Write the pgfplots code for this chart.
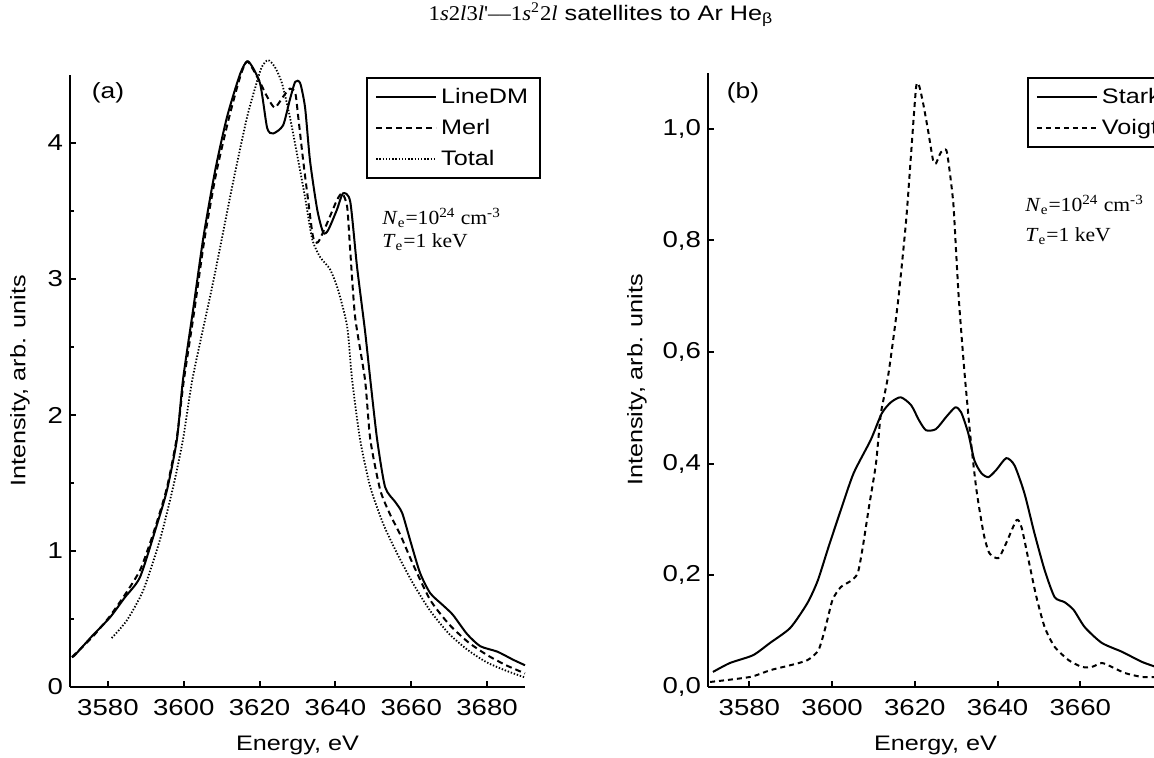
\documentclass[border=0pt]{standalone}
\usepackage{fontspec}
\setmainfont{Liberation Sans}[FakeStretch=1.2]
\newfontfamily\serif{Liberation Serif}[FakeStretch=1.08]
\usepackage{pgfplots}
\pgfplotsset{compat=1.18}
\pgfplotsset{
  panel/.style={
    scale only axis, axis lines=left, axis line style={-, line width=1.2pt},
    tick align=inside, major tick length=3pt, minor tick length=2pt,
    tick style={line width=1pt, black}, clip=false,
    xmin=3570, ymin=0,
    tick label style={font=\fontsize{11.5}{13}\selectfont},
    label style={font=\fontsize{10.5}{12}\selectfont},
    /pgf/number format/assume math mode=true,
    xticklabel style={/pgf/number format/1000 sep={}, yshift=-2.5pt},
    xlabel={Energy, eV}, ylabel={Intensity, arb. units},
    xlabel style={at={(axis description cs:0.5,0)}, anchor=center, yshift=-29pt},
    legend cell align=left,
    legend image code/.code={\draw[##1] (0pt,0pt) -- (30pt,0pt);},
    legend style={draw=black, line width=1pt, font=\fontsize{10.5}{12}\selectfont,
      row sep=2.5pt, inner xsep=4pt, inner ysep=3pt},
  },
  solidc/.style={black, line width=1pt, smooth, tension=0.4},
  dashc/.style={black, line width=1pt, dash pattern=on 3pt off 2pt, smooth, tension=0.4},
  dotc/.style={black, line width=0.9pt, dash pattern=on 0.7pt off 0.9pt, smooth, tension=0.4},
}
\begin{document}
\begin{tikzpicture}
% ---------- panel (a)
\begin{axis}[panel, at={(35pt,35.5pt)}, anchor=south west,
  width=227.5pt, height=306pt, xmax=3690, ymax=4.5,
  xtick={3580,3600,...,3680},
  ytick={0,1,2,3,4}, minor y tick num=1,
  ylabel style={at={(axis description cs:0,0.5)}, anchor=center, yshift=25pt},
  legend style={at={(0.651,0.997)}, anchor=north west}]
\addplot[solidc] coordinates {
(3570.5,0.22) (3571.3,0.235) (3576,0.38) (3580.5,0.51) (3584.5,0.66) (3588.5,0.81)
(3593,1.2) (3595.6,1.45) (3598.2,1.82) (3599.8,2.26) (3602.5,2.78) (3605.2,3.31)
(3608.3,3.80) (3611.4,4.19) (3614.9,4.51) (3617,4.60) (3620.1,4.44) (3622,4.11)
(3623.6,4.07) (3626.2,4.13) (3628,4.32) (3629.4,4.45) (3630.7,4.44) (3632,4.26)
(3633.3,3.87) (3635.2,3.51) (3636.8,3.34) (3638.1,3.36) (3640.4,3.51) (3642,3.63)
(3643.9,3.57) (3645.7,3.09) (3647.8,2.62) (3649.2,2.26) (3651,1.82) (3653.1,1.47)
(3655.8,1.36) (3657.6,1.28) (3659.7,1.08) (3662.3,0.84) (3665,0.69) (3668.4,0.60)
(3671,0.53) (3674.7,0.39) (3678.2,0.30) (3682.7,0.26) (3686.9,0.20) (3690,0.16)};
\addlegendentry{LineDM}
\addplot[dashc] coordinates {
(3570.5,0.22) (3572,0.26) (3576,0.37) (3580.5,0.52) (3585,0.70) (3588.5,0.86)
(3591,1.05) (3593,1.22) (3595.6,1.47) (3598.2,1.84) (3600,2.25) (3602.7,2.75)
(3605.4,3.28) (3608.5,3.77) (3611.8,4.17) (3614.8,4.48) (3616.7,4.60) (3619.3,4.49)
(3622,4.34) (3624,4.26) (3626.2,4.34) (3628,4.40) (3629.4,4.37) (3630.2,4.19)
(3631.5,3.87) (3632.8,3.58) (3634.1,3.31) (3635.4,3.27) (3637.8,3.41) (3640.4,3.58)
(3641.8,3.63) (3643.1,3.53) (3643.9,3.21) (3645.2,2.72) (3647.8,2.26) (3649.2,1.82)
(3651.8,1.45) (3654.4,1.27) (3657.1,1.12) (3660.5,0.90) (3665,0.64) (3670,0.46)
(3675,0.33) (3680,0.235) (3685,0.16) (3690,0.10)};
\addlegendentry{Merl}
\addplot[dotc] coordinates {
(3581,0.36) (3585,0.49) (3589.3,0.71) (3593.7,1.08) (3597.2,1.47) (3599.8,1.82)
(3602.4,2.28) (3607.7,2.97) (3613,3.71) (3616.7,4.19) (3619.3,4.45) (3620.6,4.56)
(3622.2,4.61) (3624,4.56) (3625.9,4.44) (3628,4.19) (3630.2,3.87) (3632,3.60)
(3633.9,3.29) (3636,3.16) (3638.6,3.07) (3640.7,2.92) (3643.1,2.65) (3644.4,2.26)
(3646.5,1.82) (3649.2,1.47) (3652.6,1.20) (3656.3,0.98) (3660.5,0.76) (3665,0.56)
(3670,0.39) (3675,0.27) (3680,0.18) (3685,0.12) (3690,0.07)};
\addlegendentry{Total}
\end{axis}
% ---------- panel (b)
\begin{axis}[panel, at={(354pt,35.5pt)}, anchor=south west,
  width=227.5pt, height=307pt, xmax=3680, ymax=1.1,
  xtick={3580,3600,...,3660},
  ytick={0,0.2,0.4,0.6,0.8,1.0},
  yticklabel style={/pgf/number format/.cd, use comma, fixed, fixed zerofill, precision=1},
  ylabel style={at={(axis description cs:0,0.5)}, anchor=center, yshift=35.5pt},
  legend style={at={(0.701,0.9935)}, anchor=north west}]
\addplot[solidc] coordinates {
(3571.2,0.027) (3575.3,0.043) (3580.9,0.057) (3585,0.079) (3589.9,0.106) (3594,0.150)
(3596.5,0.19) (3599.1,0.25) (3602.1,0.317) (3605.2,0.383) (3609.3,0.442) (3612,0.49)
(3614.2,0.51) (3616.6,0.519) (3619.1,0.505) (3621,0.478) (3622.7,0.46) (3625.1,0.462)
(3627.6,0.484) (3629.8,0.501) (3631.2,0.492) (3632.9,0.455) (3634.4,0.406) (3636.1,0.383)
(3637.8,0.376) (3639.7,0.389) (3642.1,0.41) (3644.1,0.397) (3646.5,0.347) (3648.9,0.276)
(3651.4,0.209) (3653.8,0.161) (3656.2,0.152) (3658.4,0.138) (3661.1,0.107) (3665.2,0.079)
(3670.1,0.063) (3674.9,0.045) (3678.3,0.036)};
\addlegendentry{Stark}
\addplot[dashc, dash pattern=on 2.5pt off 2pt] coordinates {
(3570.5,0.009) (3580.2,0.018) (3585,0.030) (3589.9,0.039) (3594,0.048) (3596.7,0.066)
(3598.4,0.107) (3600.1,0.156) (3602.1,0.179) (3604.5,0.19) (3606.2,0.204) (3607.4,0.25)
(3608.9,0.322) (3610.6,0.40) (3611.8,0.49) (3613.6,0.56) (3615.9,0.688) (3617.9,0.836)
(3619.1,0.956) (3620.3,1.074) (3621,1.078) (3622,1.046) (3623.2,0.997) (3624.4,0.944)
(3625.1,0.938) (3626.3,0.958) (3627.6,0.962) (3628.3,0.931) (3629.3,0.867) (3630,0.777)
(3630.7,0.688) (3631.9,0.573) (3632.9,0.49) (3633.6,0.437) (3634.9,0.353) (3636.6,0.276)
(3638,0.24) (3640.2,0.231) (3642.1,0.258) (3644.6,0.299) (3645.8,0.286) (3647.5,0.227)
(3649.4,0.161) (3651.4,0.107) (3653.8,0.072) (3657.2,0.048) (3660.4,0.036) (3662.8,0.036)
(3665.2,0.043) (3667.6,0.036) (3670.8,0.025) (3674.9,0.018) (3678.3,0.018)};
\addlegendentry{Voigt}
\end{axis}
% ---------- texts
\node[font=\fontsize{10.5}{12}\selectfont] at (300.5pt,371.5pt)
  {{\serif 1\textit{s}2\textit{l}3\textit{l}'\textendash\textendash1\textit{s}\textsuperscript{2}2\textit{l}} satellites to Ar He\textsubscript{β}};
\node[font=\fontsize{11}{12}\selectfont] at (54pt,332.5pt) {(a)};
\node[font=\fontsize{11}{12}\selectfont] at (371.5pt,332.5pt) {(b)};
\node[anchor=west, inner sep=0pt, font=\serif\fontsize{10}{12}\selectfont] at (191pt,270pt)
  {\textit{N}\textsubscript{e}=10\textsuperscript{24} cm\textsuperscript{-3}};
\node[anchor=west, inner sep=0pt, font=\serif\fontsize{10}{12}\selectfont] at (191pt,258pt)
  {\textit{T}\textsubscript{e}=1 keV};
\node[anchor=west, inner sep=0pt, font=\serif\fontsize{10}{12}\selectfont] at (512.5pt,276.5pt)
  {\textit{N}\textsubscript{e}=10\textsuperscript{24} cm\textsuperscript{-3}};
\node[anchor=west, inner sep=0pt, font=\serif\fontsize{10}{12}\selectfont] at (512.5pt,261pt)
  {\textit{T}\textsubscript{e}=1 keV};
\pgfresetboundingbox
\path[use as bounding box] (0pt,0pt) rectangle (577pt,379pt);
\end{tikzpicture}
\end{document}
